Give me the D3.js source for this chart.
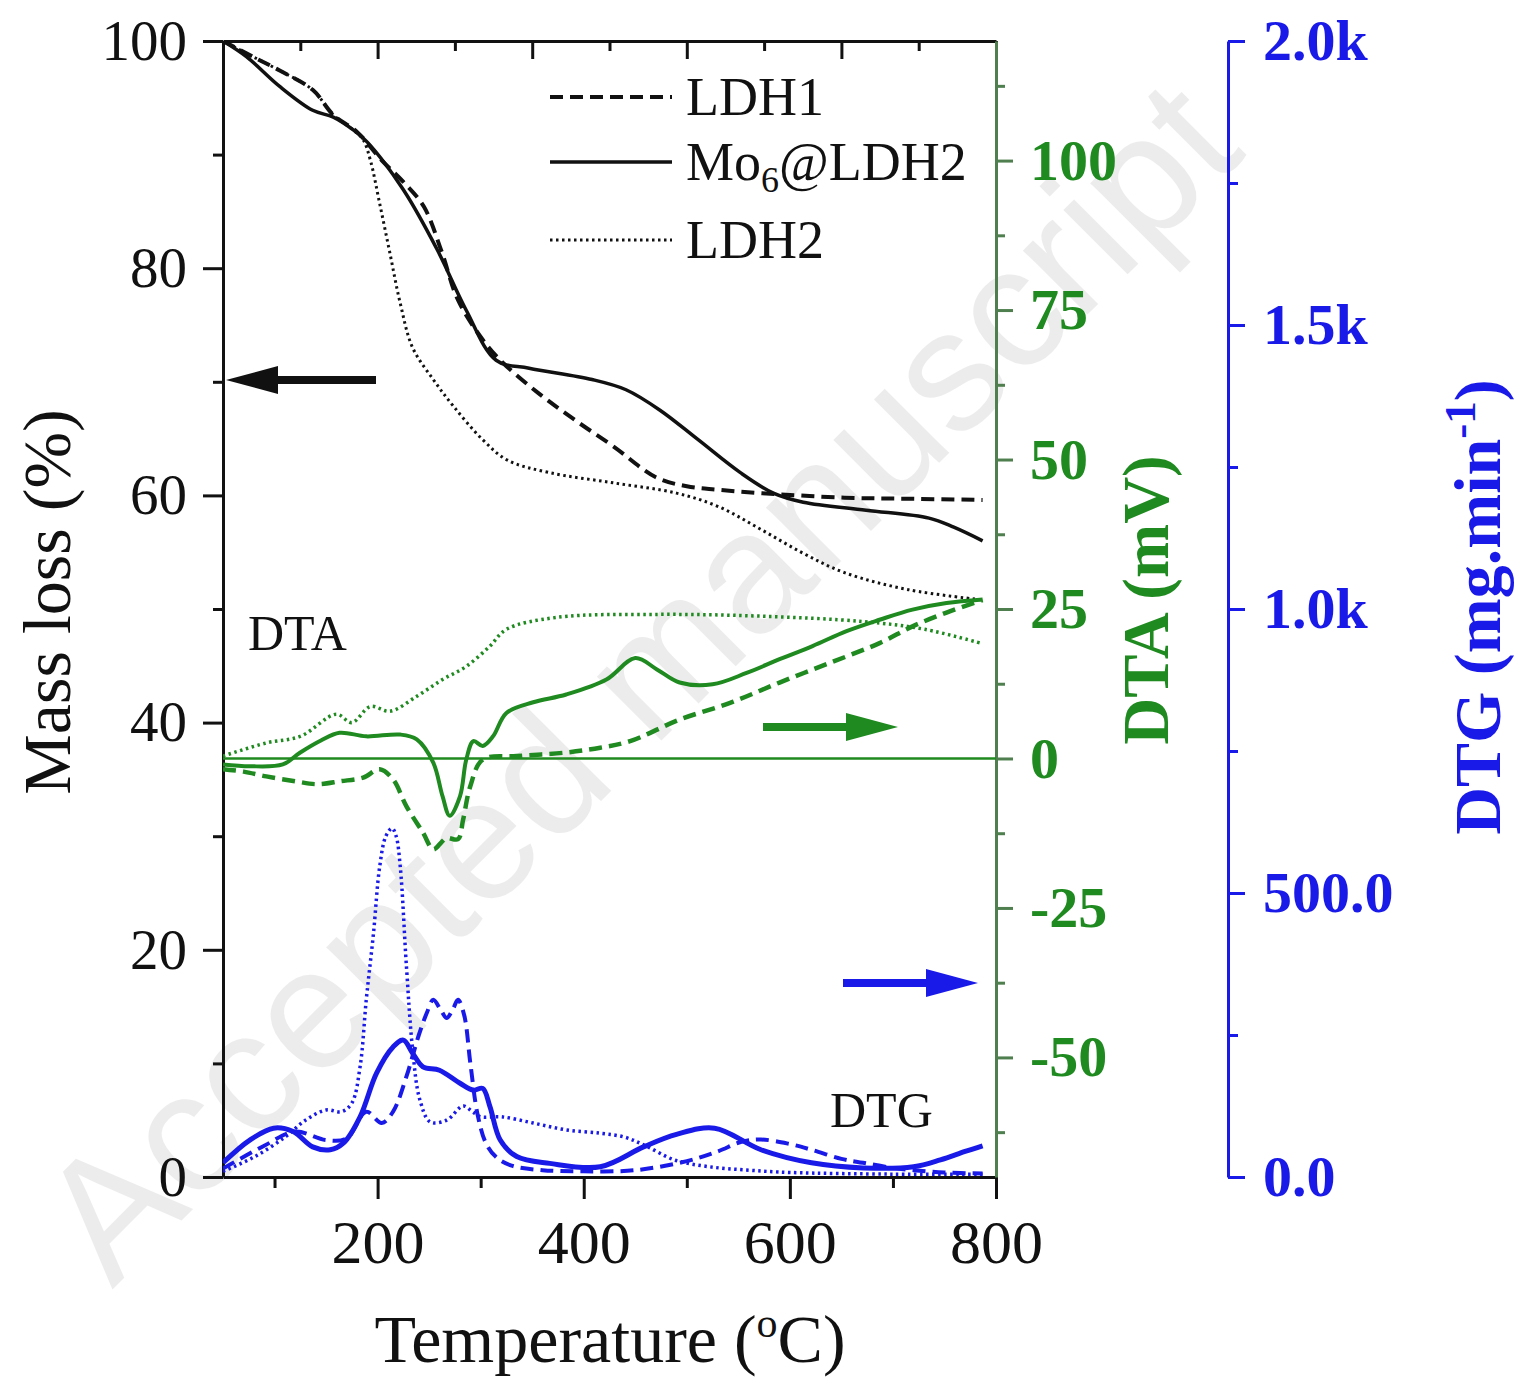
<!DOCTYPE html>
<html>
<head>
<meta charset="utf-8">
<script src="https://cdn.jsdelivr.net/npm/d3@7"></script>
<style>
  body { margin: 0; background: #fff; }
  svg { display: block; }
</style>
</head>
<body>
<svg id="chart" width="1514" height="1380"></svg>
<script>
// ---- values ----
const tempTicks = [200, 400, 600, 800];
const tempMinor = [100, 300, 500, 700];
const topMajor = [200, 350, 500, 650, 800];
const topMinor = [125, 275, 425, 575, 725];
const massTicks = [0, 20, 40, 60, 80, 100];
const massMinor = [10, 30, 50, 70, 90];
const dtaTicks = [-50, -25, 0, 25, 50, 75, 100];
const dtaMinor = [-62.5, -37.5, -12.5, 12.5, 37.5, 62.5, 87.5, 112.5];
const dtgTicks = [0, 500, 1000, 1500, 2000];
const dtgMinor = [250, 750, 1250, 1750];

const seriesNames = ['LDH1', 'Mo6@LDH2', 'LDH2'];

// TGA mass loss (%)
const tgaLdh1T = [50, 75, 105, 137, 157, 180, 204, 225, 245, 262, 278, 302, 319, 356, 392, 429, 470, 500, 530, 572, 653, 720, 787];
const tgaLdh1 = [100, 98.8, 97.4, 95.7, 93.5, 92.0, 89.5, 87.6, 85.4, 81.5, 77.2, 73.7, 71.9, 69.0, 66.6, 64.3, 61.6, 60.8, 60.5, 60.2, 59.8, 59.7, 59.6];
const tgaMoT = [50, 73, 105, 137, 157, 176, 190, 225, 258, 286, 315, 347, 408, 441, 474, 511, 552, 584, 613, 674, 735, 759, 787];
const tgaMo = [100, 98.6, 96.0, 93.9, 93.3, 92.2, 91.1, 86.9, 81.6, 76.3, 71.9, 71.2, 70.2, 69.3, 67.5, 64.9, 62.0, 60.2, 59.4, 58.7, 58.0, 57.2, 56.0];
const tgaLdh2T = [50, 75, 105, 137, 157, 176, 186, 193, 202, 212, 222, 234, 254, 274, 302, 326, 367, 429, 490, 531, 572, 613, 653, 715, 787];
const tgaLdh2 = [100, 98.8, 97.4, 95.7, 93.5, 92.2, 91.3, 89.5, 85.7, 81.3, 76.9, 73.0, 70.2, 67.8, 64.9, 63.1, 62.0, 61.1, 60.2, 59.0, 57.0, 54.9, 53.2, 51.7, 50.8];

// DTA (mV)
const dtaLdh1T = [50, 70, 92, 120, 141, 164, 186, 202, 215, 228, 244, 254, 262, 267, 278, 283, 290, 302, 335, 383, 416, 445, 493, 542, 590, 639, 687, 719, 752, 787];
const dtaLdh1 = [-1.8, -2.2, -3.0, -3.8, -4.3, -3.8, -3.2, -1.8, -3.5, -8.0, -12.4, -15.2, -14.0, -13.3, -13.5, -10.2, -4.6, -0.2, 0.4, 1.0, 1.8, 2.9, 6.5, 9.3, 12.7, 16.0, 19.3, 22.1, 24.4, 26.5];
const dtaMoT = [50, 76, 108, 125, 145, 163, 189, 222, 238, 254, 263, 270, 280, 286, 293, 302, 312, 325, 351, 383, 422, 450, 471, 493, 525, 558, 590, 622, 655, 687, 719, 752, 787];
const dtaMo = [-1.0, -1.3, -1.0, 1.0, 3.0, 4.3, 3.7, 4.0, 3.2, -0.7, -6.3, -9.6, -6.3, -0.2, 2.9, 2.1, 3.7, 7.6, 9.4, 10.7, 13.2, 16.8, 14.9, 12.7, 12.4, 14.3, 16.6, 18.8, 21.3, 23.2, 24.9, 26.0, 26.6];
const dtaLdh2T = [50, 92, 125, 160, 175, 193, 212, 238, 263, 286, 309, 325, 374, 473, 572, 671, 731, 787];
const dtaLdh2 = [0.4, 2.6, 3.7, 7.4, 6.0, 8.7, 7.9, 10.4, 13.2, 15.4, 18.8, 21.6, 23.6, 24.1, 23.8, 22.9, 21.6, 19.2];

// DTG (mg.min-1)
const dtgLdh1T = [50, 90, 120, 150, 170, 189, 204, 215, 228, 240, 248, 254, 261, 267, 273, 278, 284, 290, 297, 305, 315, 330, 360, 400, 450, 500, 530, 553, 572, 600, 621, 650, 671, 700, 720, 750, 787];
const dtgLdh1 = [15, 55, 80, 65, 68, 115, 95, 115, 177, 250, 290, 312, 295, 280, 295, 312, 285, 200, 110, 60, 35, 20, 12, 10, 12, 28, 45, 62, 66, 58, 48, 32, 25, 16, 12, 8, 6];
const dtgMoT = [50, 76, 99, 118, 137, 154, 167, 183, 199, 215, 225, 234, 244, 260, 280, 293, 302, 309, 319, 335, 367, 416, 458, 490, 527, 572, 621, 671, 720, 746, 770, 787];
const dtgMo = [25, 65, 86, 80, 53, 48, 60, 106, 183, 229, 241, 218, 194, 188, 165, 153, 156, 124, 65, 36, 24, 18, 53, 75, 86, 48, 25, 16, 18, 30, 45, 55];
const dtgLdh2T = [50, 80, 110, 130, 150, 165, 175, 183, 189, 196, 202, 208, 214, 218, 222, 228, 234, 241, 251, 267, 283, 292, 300, 320, 351, 383, 416, 440, 460, 488, 522, 560, 600, 700, 787];
const dtgLdh2 = [10, 35, 70, 100, 118, 115, 130, 194, 312, 429, 546, 600, 614, 600, 546, 370, 224, 136, 97, 100, 125, 115, 106, 106, 95, 83, 77, 70, 55, 30, 18, 12, 8, 5, 5];

// ---- layout ----
const serif = '"Liberation Serif", "Times New Roman", serif';
const black = '#111';
const green = '#1f8a1f';
const greenAxis = '#4f7f4f';
const blue = '#1a1ae8';

const svg = d3.select('#chart');

const x = d3.scaleLinear().domain([50, 800]).range([223, 996]);
const yMass = d3.scaleLinear().domain([0, 100]).range([1177, 41]);
const yDta = d3.scaleLinear().domain([-70, 120]).range([1177, 41]);
const yDtg = d3.scaleLinear().domain([0, 2000]).range([1177, 41]);

// faint watermark behind everything
svg.append('text')
  .attr('transform', 'translate(680,722) rotate(-45)')
  .attr('text-anchor', 'middle')
  .attr('font-family', '"Liberation Sans", Arial, sans-serif')
  .attr('font-size', 172)
  .attr('fill', '#000')
  .attr('opacity', 0.07)
  .text('Accepted manuscript');

function styleAxis(g, color, size, bold) {
  g.attr('font-family', serif).attr('font-size', size)
    .attr('font-weight', bold ? 'bold' : 'normal');
  g.select('.domain').attr('stroke', color).attr('stroke-width', 3);
  g.selectAll('.tick line').attr('stroke', color).attr('stroke-width', 3);
  g.selectAll('.tick text').attr('fill', color);
}

function minorAxis(axis, transform, color) {
  const g = svg.append('g').attr('transform', transform).call(axis.tickFormat(''));
  g.select('.domain').remove();
  g.selectAll('.tick line').attr('stroke', color).attr('stroke-width', 3);
}

// plain hyphen for negative numbers, like the original
const plain = d => String(d);

// left mass axis
const gLeft = svg.append('g').attr('transform', 'translate(223,0)')
  .call(d3.axisLeft(yMass).tickValues(massTicks).tickSize(20).tickSizeOuter(0).tickPadding(16).tickFormat(plain));
styleAxis(gLeft, black, 57, false);
minorAxis(d3.axisLeft(yMass).tickValues(massMinor).tickSize(10), 'translate(223,0)', black);

// bottom temperature axis
const gBottom = svg.append('g').attr('transform', 'translate(0,1177)')
  .call(d3.axisBottom(x).tickValues(tempTicks).tickSize(22).tickSizeOuter(0).tickPadding(20).tickFormat(plain));
styleAxis(gBottom, black, 62, false);
minorAxis(d3.axisBottom(x).tickValues(tempMinor).tickSize(11), 'translate(0,1177)', black);

// top frame with inward ticks
const gTop = svg.append('g').attr('transform', 'translate(0,41)')
  .call(d3.axisBottom(x).tickValues(topMajor).tickSize(18).tickSizeOuter(0).tickFormat(''));
styleAxis(gTop, black, 10, false);
minorAxis(d3.axisBottom(x).tickValues(topMinor).tickSize(10), 'translate(0,41)', black);

// right DTA axis (green)
const gDta = svg.append('g').attr('transform', 'translate(996,0)')
  .call(d3.axisRight(yDta).tickValues(dtaTicks).tickSize(17).tickSizeOuter(0).tickPadding(17).tickFormat(plain));
styleAxis(gDta, green, 58, true);
gDta.select('.domain').attr('stroke', greenAxis);
gDta.selectAll('.tick line').attr('stroke', greenAxis);
minorAxis(d3.axisRight(yDta).tickValues(dtaMinor).tickSize(9), 'translate(996,0)', greenAxis);

// DTG axis (blue)
const dtgFormat = d => d >= 1000 ? (d / 1000).toFixed(1) + 'k' : d.toFixed(1);
const gDtg = svg.append('g').attr('transform', 'translate(1228,0)')
  .call(d3.axisRight(yDtg).tickValues(dtgTicks).tickSize(17).tickSizeOuter(0).tickPadding(18).tickFormat(dtgFormat));
styleAxis(gDtg, blue, 58, true);
minorAxis(d3.axisRight(yDtg).tickValues(dtgMinor).tickSize(10), 'translate(1228,0)', blue);

// axis titles
const xTitle = svg.append('text')
  .attr('x', 610).attr('y', 1362)
  .attr('text-anchor', 'middle')
  .attr('font-family', serif).attr('font-size', 68).attr('fill', black);
xTitle.append('tspan').text('Temperature (');
xTitle.append('tspan').attr('dy', -25).attr('font-size', 42).text('o');
xTitle.append('tspan').attr('dy', 25).text('C)');

svg.append('text')
  .attr('transform', 'translate(70,602) rotate(-90)')
  .attr('text-anchor', 'middle')
  .attr('font-family', serif).attr('font-size', 68).attr('fill', black)
  .text('Mass loss (%)');

svg.append('text')
  .attr('transform', 'translate(1168,600) rotate(-90)')
  .attr('text-anchor', 'middle')
  .attr('font-family', serif).attr('font-size', 65).attr('font-weight', 'bold').attr('fill', green)
  .text('DTA (mV)');

const dtgTitle = svg.append('text')
  .attr('transform', 'translate(1500,607) rotate(-90)')
  .attr('text-anchor', 'middle')
  .attr('font-family', serif).attr('font-size', 66).attr('font-weight', 'bold').attr('fill', blue);
dtgTitle.append('tspan').text('DTG (mg.min');
dtgTitle.append('tspan').attr('dy', -25).attr('font-size', 45).text('-1');
dtgTitle.append('tspan').attr('dy', 25).text(')');

// ---- curves ----
svg.append('defs').append('clipPath').attr('id', 'plot')
  .append('rect').attr('x', 223).attr('y', 41).attr('width', 773).attr('height', 1136);

const plot = svg.append('g').attr('clip-path', 'url(#plot)');

// DTA zero line
plot.append('line')
  .attr('x1', x(50)).attr('x2', x(800))
  .attr('y1', yDta(0)).attr('y2', yDta(0))
  .attr('stroke', green).attr('stroke-width', 2.5);

const dashStyles = {
  'LDH1': '13,7',
  'Mo6@LDH2': null,
  'LDH2': '2.5,3.5'
};

function drawCurve(ts, vs, yScale, color, name, width) {
  const pts = ts.map((t, i) => [t, vs[i]]);
  const line = d3.line()
    .x(d => x(d[0]))
    .y(d => yScale(d[1]))
    .curve(d3.curveCatmullRom.alpha(0.5));
  plot.append('path')
    .datum(pts)
    .attr('d', line)
    .attr('fill', 'none')
    .attr('stroke', color)
    .attr('stroke-width', width)
    .attr('stroke-dasharray', dashStyles[name])
    .attr('stroke-linejoin', 'round');
}

// TGA
drawCurve(tgaLdh2T, tgaLdh2, yMass, black, 'LDH2', 3);
drawCurve(tgaLdh1T, tgaLdh1, yMass, black, 'LDH1', 4);
drawCurve(tgaMoT, tgaMo, yMass, black, 'Mo6@LDH2', 3.5);

// DTA
drawCurve(dtaLdh2T, dtaLdh2, yDta, green, 'LDH2', 3.5);
drawCurve(dtaLdh1T, dtaLdh1, yDta, green, 'LDH1', 4.5);
drawCurve(dtaMoT, dtaMo, yDta, green, 'Mo6@LDH2', 4);

// DTG
drawCurve(dtgLdh2T, dtgLdh2, yDtg, blue, 'LDH2', 3.5);
drawCurve(dtgLdh1T, dtgLdh1, yDtg, blue, 'LDH1', 4);
drawCurve(dtgMoT, dtgMo, yDtg, blue, 'Mo6@LDH2', 5);

// ---- legend ----
const legendY = [97, 162, 240];
const legendWidth = [4, 3.5, 3];
const legend = svg.append('g');
seriesNames.forEach((name, i) => {
  legend.append('line')
    .attr('x1', 550).attr('x2', 672)
    .attr('y1', legendY[i]).attr('y2', legendY[i])
    .attr('stroke', black).attr('stroke-width', legendWidth[i])
    .attr('stroke-dasharray', dashStyles[name]);
  const t = legend.append('text')
    .attr('x', 686).attr('y', legendY[i] + 18)
    .attr('font-family', serif).attr('font-size', 54).attr('fill', black);
  if (name === 'Mo6@LDH2') {
    t.append('tspan').text('Mo');
    t.append('tspan').attr('dy', 12).attr('font-size', 36).text('6');
    t.append('tspan').attr('dy', -12).text('@LDH2');
  } else {
    t.text(name);
  }
});

// ---- annotations ----
svg.append('text').attr('x', 248).attr('y', 650)
  .attr('font-family', serif).attr('font-size', 50).attr('fill', black).text('DTA');
svg.append('text').attr('x', 830).attr('y', 1127)
  .attr('font-family', serif).attr('font-size', 50).attr('fill', black).text('DTG');

function arrow(x1, x2, y, color) {
  // x2 is the tip
  const dir = Math.sign(x2 - x1);
  const headLen = 52, half = 14;
  svg.append('line')
    .attr('x1', x1).attr('x2', x2 - dir * headLen)
    .attr('y1', y).attr('y2', y)
    .attr('stroke', color).attr('stroke-width', 8);
  svg.append('path')
    .attr('d', `M${x2},${y}L${x2 - dir * headLen},${y - half}L${x2 - dir * headLen},${y + half}Z`)
    .attr('fill', color);
}
arrow(376, 226, 380, black);
arrow(763, 898, 727, green);
arrow(843, 978, 983, blue);
</script>
</body>
</html>
